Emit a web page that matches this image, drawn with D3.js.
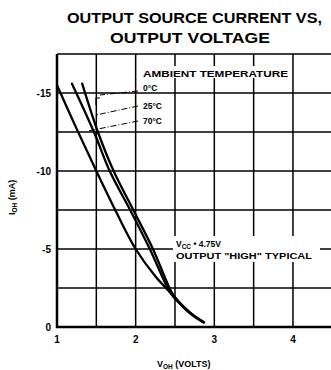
<!DOCTYPE html>
<html>
<head>
<meta charset="utf-8">
<script src="https://cdn.jsdelivr.net/npm/d3@7/dist/d3.min.js"></script>
<style>
  html, body { margin: 0; padding: 0; background: #fff; }
  svg { display: block; }
  text { font-family: "Liberation Sans", Arial, sans-serif; fill: #000; }
</style>
</head>
<body>
<svg id="chart" width="331" height="370"></svg>
<script>
// Output source current vs. output voltage, three ambient temperatures
const xTicks = [1, 2, 3, 4];
const yTicks = [-15, -10, -5, 0];
const xTickLabels = ["1", "2", "3", "4"];
const yTickLabels = ["-15", "-10", "-5", "0"];
const xGrid = [1.5, 2, 2.5, 3, 3.5, 4];
const yGrid = [-2.5, -5, -7.5, -10, -12.5, -15, -17.5];

const temps = ["0°C", "25°C", "70°C"];
const vOh0 = [1.32, 1.52, 1.72, 1.97, 2.22, 2.46, 2.55, 2.65, 2.76, 2.86];
const iOh0 = [-15.6, -12.5, -10.0, -7.5, -5.0, -2.2, -1.6, -1.1, -0.65, -0.3];
const vOh25 = [1.19, 1.47, 1.67, 1.93, 2.18, 2.44, 2.54, 2.64, 2.75, 2.86];
const iOh25 = [-15.6, -12.5, -10.0, -7.5, -5.0, -2.2, -1.6, -1.1, -0.65, -0.3];
const vOh70 = [1.0, 1.25, 1.5, 1.75, 2.0, 2.25, 2.47, 2.6, 2.72, 2.87];
const iOh70 = [-15.5, -12.7, -10.0, -7.4, -5.0, -3.25, -2.05, -1.35, -0.8, -0.3];

const svg = d3.select("#chart");
const x = d3.scaleLinear().domain([1, 4.5]).range([57, 332.3]);
const y = d3.scaleLinear().domain([-17.5, 0]).range([54, 327]);

// Title
const title = svg.append("g").attr("font-weight", "bold").attr("font-size", 14);
title.append("text").attr("x", 67).attr("y", 23)
  .attr("textLength", 255).attr("lengthAdjust", "spacingAndGlyphs")
  .text("OUTPUT SOURCE CURRENT VS,");
title.append("text").attr("x", 110).attr("y", 43)
  .attr("textLength", 160).attr("lengthAdjust", "spacingAndGlyphs")
  .text("OUTPUT VOLTAGE");

// Grid
const grid = svg.append("g").attr("stroke", "#000").attr("stroke-width", 1.5);
grid.selectAll("line.v").data(xGrid).join("line")
  .attr("x1", d => x(d)).attr("x2", d => x(d))
  .attr("y1", y(-17.5)).attr("y2", y(0));
grid.selectAll("line.h").data(yGrid).join("line")
  .attr("x1", x(1)).attr("x2", x(4.5))
  .attr("y1", d => y(d)).attr("y2", d => y(d));

// Axes frame (left and bottom heavier)
svg.append("line").attr("x1", x(1)).attr("x2", x(1)).attr("y1", y(-17.5)).attr("y2", y(0) + 1)
  .attr("stroke", "#000").attr("stroke-width", 2.5);
svg.append("line").attr("x1", x(1) - 1).attr("x2", x(4.5)).attr("y1", y(0)).attr("y2", y(0))
  .attr("stroke", "#000").attr("stroke-width", 2.5);

// Tick labels
const tl = svg.append("g").attr("font-weight", "bold").attr("font-size", 10);
tl.selectAll("text.x").data(xTicks).join("text")
  .attr("x", d => x(d)).attr("y", 343).attr("text-anchor", "middle")
  .text((d, i) => xTickLabels[i]);
tl.selectAll("text.y").data(yTicks).join("text")
  .attr("x", 51).attr("y", d => y(d) + 3.5).attr("text-anchor", "end")
  .text((d, i) => yTickLabels[i]);

// Axis titles
const xt = svg.append("text").attr("x", 157).attr("y", 367).attr("font-size", 9).attr("font-weight", "bold");
xt.append("tspan").text("V");
xt.append("tspan").attr("font-size", 6.5).attr("dy", 1.5).text("OH");
xt.append("tspan").attr("dy", -1.5).text("  (VOLTS)");

const yt = svg.append("text").attr("transform", "translate(15,215) rotate(-90)")
  .attr("font-size", 9).attr("font-weight", "bold");
yt.append("tspan").text("I");
yt.append("tspan").attr("font-size", 6.5).attr("dy", 1.5).text("OH");
yt.append("tspan").attr("dy", -1.5).text("  (mA)");

// Legend block with white backing over the grid
const lg = svg.append("g");
lg.append("rect").attr("x", 141).attr("y", 66).attr("width", 150).attr("height", 12).attr("fill", "#fff");
lg.append("rect").attr("x", 140).attr("y", 84).attr("width", 32).attr("height", 8).attr("fill", "#fff");
lg.append("rect").attr("x", 140).attr("y", 98).attr("width", 32).attr("height", 28).attr("fill", "#fff");
lg.append("text").attr("x", 143).attr("y", 77).attr("font-size", 8.5).attr("font-weight", "bold")
  .attr("textLength", 145).attr("lengthAdjust", "spacingAndGlyphs").text("AMBIENT TEMPERATURE");
const labelY = [91, 109, 124];
lg.selectAll("text.t").data(temps).join("text")
  .attr("x", 143).attr("y", (d, i) => labelY[i])
  .attr("font-size", 8.5).attr("font-weight", "bold").text(d => d);

// Leader lines from labels toward the curves
const leaders = [
  [[138, 91], [100, 95]],
  [[138, 106], [96, 115]],
  [[138, 121], [88, 131]]
];
lg.selectAll("path.leader").data(leaders).join("path")
  .attr("d", d => d3.line()(d))
  .attr("fill", "none").attr("stroke", "#000").attr("stroke-width", 1)
  .attr("stroke-dasharray", "6,2,1,2");
lg.append("path").attr("d", "M96,105 V98 H100")
  .attr("fill", "none").attr("stroke", "#000").attr("stroke-width", 1.2);

// Operating condition note
const nt = svg.append("g");
nt.append("rect").attr("x", 173).attr("y", 236).attr("width", 147).attr("height", 26).attr("fill", "#fff");
const vcc = nt.append("text").attr("x", 176).attr("y", 247).attr("font-size", 8.5).attr("font-weight", "bold");
vcc.append("tspan").text("V");
vcc.append("tspan").attr("font-size", 6.5).attr("dy", 1.5).text("CC");
vcc.append("tspan").attr("dy", -1.5).text(" • 4.75V");
nt.append("text").attr("x", 176).attr("y", 259).attr("font-size", 8.5).attr("font-weight", "bold")
  .attr("textLength", 136).attr("lengthAdjust", "spacingAndGlyphs")
  .text("OUTPUT \"HIGH\" TYPICAL");

// Curves
const series = [
  { v: vOh0, i: iOh0 },
  { v: vOh25, i: iOh25 },
  { v: vOh70, i: iOh70 }
];
const line = d3.line().x(d => x(d[0])).y(d => y(d[1])).curve(d3.curveCatmullRom.alpha(0.5));
svg.append("g").selectAll("path").data(series).join("path")
  .attr("d", s => line(s.v.map((v, k) => [v, s.i[k]])))
  .attr("fill", "none").attr("stroke", "#000").attr("stroke-width", 2.3)
  .attr("stroke-linecap", "round");
</script>
</body>
</html>
